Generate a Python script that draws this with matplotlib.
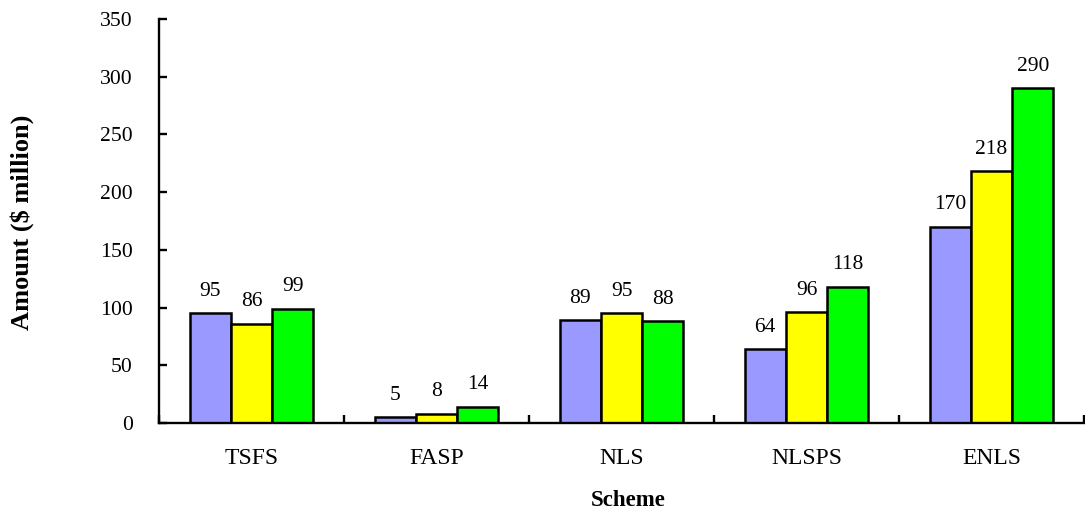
import numpy as np
import matplotlib
matplotlib.use('Agg')
import matplotlib.pyplot as plt
from matplotlib.ticker import MultipleLocator

# data #
schemes = ['TSFS', 'FASP', 'NLS', 'NLSPS', 'ENLS']
series_a = [95, 5, 89, 64, 170]
series_b = [86, 8, 95, 96, 218]
series_c = [99, 14, 88, 118, 290]
colours = ['#9999FF', '#FFFF00', '#00FF00']

plt.rcParams['font.family'] = ['Liberation Serif', 'DejaVu Serif']

fig = plt.figure(figsize=(10.85, 5.17), dpi=100)
W, H = 1085.0, 517.0
ax = fig.add_axes([159/W, (H-423)/H, (1084-159)/W, (423-19)/H])

x = np.arange(len(schemes))
width = 0.223
for i, (vals, col) in enumerate(zip([series_a, series_b, series_c], colours)):
    pos = x + (i-1)*width
    ax.bar(pos, vals, width, color=col, edgecolor='black', linewidth=1.8, zorder=2)
    for p, v in zip(pos, vals):
        ax.annotate(str(v), (p, v), xytext=(0, 12.5), textcoords='offset points',
                    ha='center', va='baseline', fontsize=15.5)

ax.set_xlim(-0.5, len(schemes)-0.5)
ax.set_ylim(0, 350)
ax.yaxis.set_major_locator(MultipleLocator(50))
ax.set_xticks(x)
ax.set_xticklabels(schemes)
ax.set_xticks(np.arange(len(schemes)+1)-0.5, minor=True)

for s in ['top', 'right']:
    ax.spines[s].set_visible(False)
for s in ['left', 'bottom']:
    ax.spines[s].set_linewidth(1.7)

ax.tick_params(axis='y', direction='in', length=5.5, width=1.7, pad=19, labelsize=15.6)
ax.tick_params(axis='x', which='major', length=0, pad=18, labelsize=17)
ax.tick_params(axis='x', which='minor', direction='in', length=5.5, width=1.7)

fig.text(22.5/W, 1-222/H, 'Amount ($ million)', rotation=90, ha='center', va='center',
         fontsize=19, fontweight='bold')
fig.text(628/W, 1-500/H, 'Scheme', ha='center', va='center',
         fontsize=16.5, fontweight='bold')

plt.savefig('out.png', dpi=100)
